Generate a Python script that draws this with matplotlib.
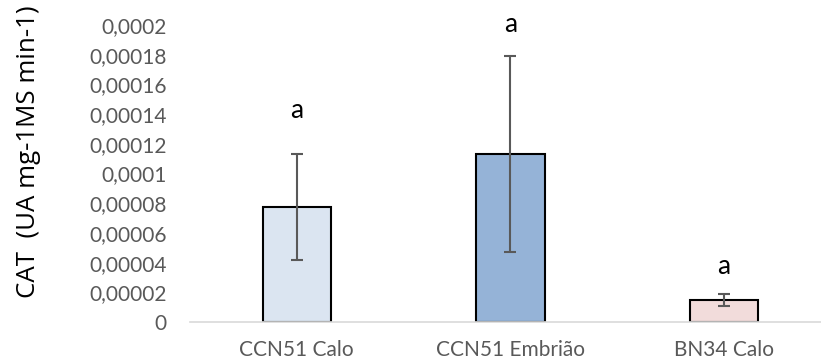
import matplotlib.pyplot as plt
import numpy as np

# CAT activity per sample type
categories = ["CCN51 Calo", "CCN51 Embrião", "BN34 Calo"]
means = [0.0000775, 0.000113, 0.0000148]
errors = [0.0000356, 0.000066, 0.0000038]
letters = ["a", "a", "a"]
letter_y = [0.0001374, 0.0001953, 0.0000323]
colors = ["#DBE5F1", "#95B3D7", "#F2DCDB"]
yticks = [0, 0.00002, 0.00004, 0.00006, 0.00008, 0.0001,
          0.00012, 0.00014, 0.00016, 0.00018, 0.0002]
ytick_labels = ["0", "0,00002", "0,00004", "0,00006", "0,00008", "0,0001",
                "0,00012", "0,00014", "0,00016", "0,00018", "0,0002"]

plt.rcParams["font.family"] = ["Lato", "DejaVu Sans"]

fig = plt.figure(figsize=(8.21, 3.63), dpi=100)
ax = fig.add_axes([190 / 821, 41 / 363, 631 / 821, 297 / 363])

x = np.arange(len(categories))
ax.bar(x, means, width=0.32, color=colors, edgecolor="black", linewidth=1.5, zorder=2)
ax.errorbar(x, means, yerr=errors, fmt="none", ecolor="#595959",
            elinewidth=1.5, capsize=4.5, capthick=1.5, zorder=3)

for xi, ly, lab in zip(x, letter_y, letters):
    ax.text(xi, ly, lab, ha="center", va="baseline",
            fontsize=19, color="black", clip_on=False)

ax.set_xlim(-0.5, 2.454)
ax.set_ylim(0, 0.0002)
ax.set_yticks(yticks)
ax.set_yticklabels(ytick_labels)
ax.set_xticks(x)
ax.set_xticklabels(categories)
ax.tick_params(axis="both", length=0, labelsize=15, colors="#595959")
ax.tick_params(axis="y", pad=17)
ax.tick_params(axis="x", pad=13)

for side in ["top", "right", "left"]:
    ax.spines[side].set_visible(False)
ax.spines["bottom"].set_color("#D9D9D9")
ax.spines["bottom"].set_linewidth(1.2)

fig.text(29 / 821, 1 - 152 / 363, "CAT  (UA mg-1MS min-1)", rotation=90,
         ha="center", va="center", fontsize=18.6, color="black",
         family=["Open Sans", "DejaVu Sans"])

fig.savefig("out.png", dpi=100)
